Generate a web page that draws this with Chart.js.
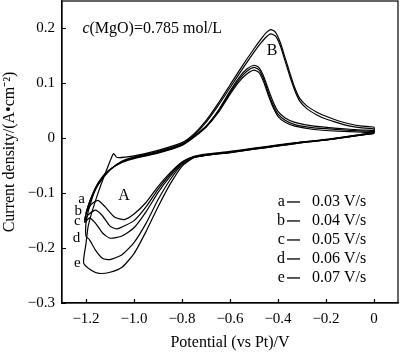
<!DOCTYPE html>
<html>
<head>
<meta charset="utf-8">
<script src="https://cdn.jsdelivr.net/npm/chart.js@4/dist/chart.umd.min.js"></script>
<style>
  body { margin: 0; background: #fff; }
</style>
</head>
<body>
<canvas id="cvChart" width="400" height="352"></canvas>
<script>
// scan labels and rates
const curveNames = ['a', 'b', 'c', 'd', 'e'];
const scanRates = ['0.03 V/s', '0.04 V/s', '0.05 V/s', '0.06 V/s', '0.07 V/s'];

// axis ticks
const xTicks = [-1.2, -1.0, -0.8, -0.6, -0.4, -0.2, 0];
const xTickLabels = ['\u22121.2', '\u22121.0', '\u22120.8', '\u22120.6', '\u22120.4', '\u22120.2', '0'];
const yTicks = [-0.3, -0.2, -0.1, 0, 0.1, 0.2];
const yTickLabels = ['\u22120.3', '\u22120.2', '\u22120.1', '0', '0.1', '0.2'];

// potential (V) and current density (A/cm2) along each sweep, starting at 0 V going negative
const potA = [0, -0.1, -0.2, -0.3, -0.4, -0.5, -0.6, -0.7, -0.75,
  -0.8, -0.85, -0.9, -0.95, -1.0, -1.04, -1.08, -1.12, -1.15, -1.18, -1.2,
  -1.18, -1.15, -1.1, -1.05, -1.0, -0.9, -0.8,
  -0.75, -0.7, -0.65, -0.6, -0.56, -0.53, -0.5, -0.48, -0.46, -0.44, -0.42, -0.4, -0.37, -0.33, -0.25, -0.15, -0.05, 0];
const curA = [0.009, 0.003, -0.003, -0.007, -0.012, -0.018, -0.024, -0.029, -0.033,
  -0.043, -0.063, -0.088, -0.117, -0.138, -0.148, -0.144, -0.125, -0.113, -0.121, -0.136,
  -0.11, -0.082, -0.057, -0.044, -0.037, -0.027, -0.013,
  0.002, 0.02, 0.046, 0.08, 0.104, 0.117, 0.124, 0.12, 0.103, 0.078, 0.056, 0.04, 0.029, 0.022, 0.016, 0.013, 0.011, 0.01];

const potB = [0, -0.1, -0.2, -0.3, -0.4, -0.5, -0.6, -0.7, -0.75,
  -0.8, -0.85, -0.9, -0.95, -1.0, -1.07, -1.1, -1.13, -1.16, -1.19, -1.205,
  -1.19, -1.16, -1.12, -1.06, -1.0, -0.9, -0.8,
  -0.75, -0.7, -0.65, -0.6, -0.56, -0.53, -0.5, -0.48, -0.46, -0.44, -0.42, -0.4, -0.37, -0.33, -0.25, -0.15, -0.05, 0];
const curB = [0.009, 0.003, -0.003, -0.007, -0.013, -0.019, -0.025, -0.03, -0.034,
  -0.044, -0.066, -0.093, -0.125, -0.15, -0.165, -0.16, -0.142, -0.131, -0.139, -0.149,
  -0.122, -0.09, -0.064, -0.045, -0.036, -0.026, -0.012,
  0.003, 0.021, 0.048, 0.083, 0.108, 0.122, 0.129, 0.125, 0.108, 0.083, 0.06, 0.044, 0.033, 0.025, 0.019, 0.016, 0.013, 0.012];

const potC = [0, -0.1, -0.2, -0.3, -0.4, -0.5, -0.6, -0.7, -0.75,
  -0.8, -0.85, -0.9, -0.95, -1.0, -1.05, -1.1, -1.13, -1.16, -1.185, -1.205,
  -1.2, -1.18, -1.15, -1.1, -1.05, -1.0, -0.9, -0.8,
  -0.75, -0.7, -0.65, -0.6, -0.56, -0.53, -0.5, -0.48, -0.46, -0.44, -0.42, -0.4, -0.37, -0.33, -0.25, -0.15, -0.05, 0];
const curC = [0.01, 0.004, -0.002, -0.007, -0.013, -0.019, -0.025, -0.031, -0.035,
  -0.046, -0.07, -0.099, -0.134, -0.163, -0.178, -0.182, -0.173, -0.155, -0.145, -0.153,
  -0.138, -0.112, -0.085, -0.058, -0.043, -0.035, -0.025, -0.011,
  0.004, 0.022, 0.05, 0.086, 0.112, 0.126, 0.133, 0.129, 0.113, 0.089, 0.066, 0.049, 0.037, 0.029, 0.022, 0.018, 0.015, 0.014];

const potD = [0, -0.1, -0.2, -0.3, -0.4, -0.5, -0.6, -0.7, -0.75,
  -0.8, -0.85, -0.9, -0.95, -1.0, -1.05, -1.1, -1.13, -1.16, -1.185, -1.2,
  -1.2, -1.19, -1.16, -1.12, -1.06, -1.0, -0.9, -0.8,
  -0.75, -0.7, -0.65, -0.6, -0.55, -0.5, -0.47, -0.45, -0.43, -0.41, -0.39, -0.37, -0.35, -0.33, -0.31, -0.28, -0.24, -0.2, -0.15, -0.1, -0.05, 0];
const curD = [0.01, 0.004, -0.003, -0.008, -0.014, -0.02, -0.026, -0.031, -0.035,
  -0.048, -0.076, -0.112, -0.155, -0.19, -0.212, -0.221, -0.219, -0.204, -0.185, -0.178,
  -0.155, -0.132, -0.093, -0.065, -0.044, -0.034, -0.024, -0.01,
  0.006, 0.029, 0.059, 0.092, 0.125, 0.157, 0.174, 0.184, 0.19, 0.186, 0.168, 0.14, 0.112, 0.087, 0.068, 0.054, 0.043, 0.035, 0.028, 0.022, 0.019, 0.017];

const potE = [0, -0.1, -0.2, -0.3, -0.4, -0.5, -0.6, -0.7, -0.75,
  -0.8, -0.85, -0.9, -0.95, -1.0, -1.05, -1.1, -1.146, -1.18, -1.21,
  -1.2, -1.19, -1.15, -1.1, -1.085, -1.07, -1.0, -0.9, -0.8,
  -0.75, -0.7, -0.65, -0.6, -0.55, -0.5, -0.47, -0.45, -0.43, -0.41, -0.39, -0.37, -0.35, -0.33, -0.31, -0.28, -0.24, -0.2, -0.15, -0.1, -0.05, 0];
const curE = [0.009, 0.003, -0.003, -0.008, -0.014, -0.02, -0.026, -0.031, -0.035,
  -0.051, -0.084, -0.125, -0.17, -0.21, -0.235, -0.244, -0.246, -0.24, -0.227,
  -0.192, -0.158, -0.1, -0.042, -0.028, -0.035, -0.032, -0.022, -0.008,
  0.008, 0.032, 0.063, 0.097, 0.131, 0.163, 0.181, 0.192, 0.198, 0.193, 0.174, 0.146, 0.118, 0.092, 0.073, 0.059, 0.048, 0.04, 0.032, 0.026, 0.022, 0.02];

const potentials = [potA, potB, potC, potD, potE];
const currents = [curA, curB, curC, curD, curE];

const FONT = '"Liberation Serif", "Times New Roman", serif';

function toLoop(pot, cur) {
  const pts = pot.map((v, i) => ({ x: v, y: cur[i] }));
  pts.push(pts[0]); // close the cycle
  return pts;
}

const datasets = curveNames.map((name, i) => ({
  label: name,
  data: toLoop(potentials[i], currents[i]),
  showLine: true,
  borderColor: '#000',
  borderWidth: 1.2,
  pointRadius: 0,
  tension: 0.2,
  fill: false
}));

// frame, inward ticks and the text labels drawn inside the plot
const overlay = {
  id: 'overlay',
  afterDraw(chart) {
    const { ctx, chartArea: ca, scales: { x, y } } = chart;
    ctx.save();
    ctx.strokeStyle = '#000';
    ctx.lineWidth = 1.2;
    ctx.strokeRect(ca.left, ca.top, ca.right - ca.left, ca.bottom - ca.top);

    ctx.beginPath();
    xTicks.forEach(v => {
      const px = Math.round(x.getPixelForValue(v)) + 0.5;
      ctx.moveTo(px, ca.bottom);
      ctx.lineTo(px, ca.bottom - 4);
    });
    yTicks.forEach(v => {
      const py = Math.round(y.getPixelForValue(v)) + 0.5;
      ctx.moveTo(ca.left, py);
      ctx.lineTo(ca.left + 4, py);
    });
    ctx.stroke();

    ctx.fillStyle = '#000';
    ctx.textBaseline = 'middle';

    // concentration note
    let px = x.getPixelForValue(-1.215);
    let py = y.getPixelForValue(0.2);
    ctx.textAlign = 'left';
    ctx.font = 'italic 16px ' + FONT;
    ctx.fillText('c', px, py);
    const w = ctx.measureText('c').width;
    ctx.font = '16px ' + FONT;
    ctx.fillText('(MgO)=0.785 mol/L', px + w, py);

    // peak marks
    ctx.textAlign = 'center';
    ctx.fillText('A', x.getPixelForValue(-1.042), y.getPixelForValue(-0.104));
    ctx.fillText('B', x.getPixelForValue(-0.425), y.getPixelForValue(0.16));

    // curve letters at the vertex
    ctx.font = '15px ' + FONT;
    const letterPos = [[-1.218, -0.111], [-1.232, -0.132], [-1.236, -0.150], [-1.24, -0.182], [-1.236, -0.227]];
    curveNames.forEach((n, i) => {
      ctx.fillText(n, x.getPixelForValue(letterPos[i][0]), y.getPixelForValue(letterPos[i][1]));
    });

    // key of scan rates
    ctx.font = '16px ' + FONT;
    const rowTop = y.getPixelForValue(-0.116);
    const keyX = x.getPixelForValue(-0.371);
    curveNames.forEach((n, i) => {
      const ry = rowTop + i * 19;
      ctx.textAlign = 'right';
      ctx.fillText(n, keyX, ry);
      ctx.beginPath();
      ctx.lineWidth = 1.3;
      ctx.moveTo(keyX + 2, ry);
      ctx.lineTo(keyX + 15, ry);
      ctx.stroke();
      ctx.textAlign = 'left';
      ctx.fillText(scanRates[i], keyX + 27, ry);
    });
    ctx.restore();
  }
};

function noEdgePadding(s) {
  s.paddingTop = 0;
  s.paddingBottom = 0;
  s.paddingLeft = 0;
  s.paddingRight = 0;
}

new Chart(document.getElementById('cvChart').getContext('2d'), {
  type: 'scatter',
  data: { datasets: datasets },
  options: {
    responsive: false,
    animation: false,
    layout: { padding: { top: 1, right: 2, left: 0, bottom: 0 } },
    plugins: {
      legend: { display: false },
      tooltip: { enabled: false }
    },
    scales: {
      x: {
        type: 'linear',
        min: -1.3,
        max: 0.1,
        afterBuildTicks: s => { s.ticks = xTicks.map(v => ({ value: v })); },
        afterFit: s => { s.height = 49; noEdgePadding(s); },
        ticks: {
          color: '#000',
          font: { size: 15, family: FONT },
          padding: 7,
          maxRotation: 0,
          autoSkip: false,
          callback: (v, i) => xTickLabels[i]
        },
        grid: { display: true, drawOnChartArea: false, drawTicks: false },
        border: { color: '#000', width: 1.2 },
        title: {
          display: true,
          text: 'Potential (vs Pt)/V',
          color: '#000',
          font: { size: 16, family: FONT },
          padding: { top: 0, bottom: 0 }
        }
      },
      y: {
        type: 'linear',
        min: -0.3,
        max: 0.25,
        afterBuildTicks: s => { s.ticks = yTicks.map(v => ({ value: v })); },
        afterFit: s => { s.width = 62; noEdgePadding(s); },
        ticks: {
          color: '#000',
          font: { size: 15, family: FONT },
          padding: 7,
          autoSkip: false,
          callback: (v, i) => yTickLabels[i]
        },
        grid: { display: true, drawOnChartArea: false, drawTicks: false },
        border: { color: '#000', width: 1.2 },
        title: {
          display: true,
          text: 'Current density/(A\u2022cm\u207B\u00B2)',
          color: '#000',
          font: { size: 16, family: FONT },
          padding: { top: 0, bottom: 0 }
        }
      }
    }
  },
  plugins: [overlay]
});
</script>
</body>
</html>
